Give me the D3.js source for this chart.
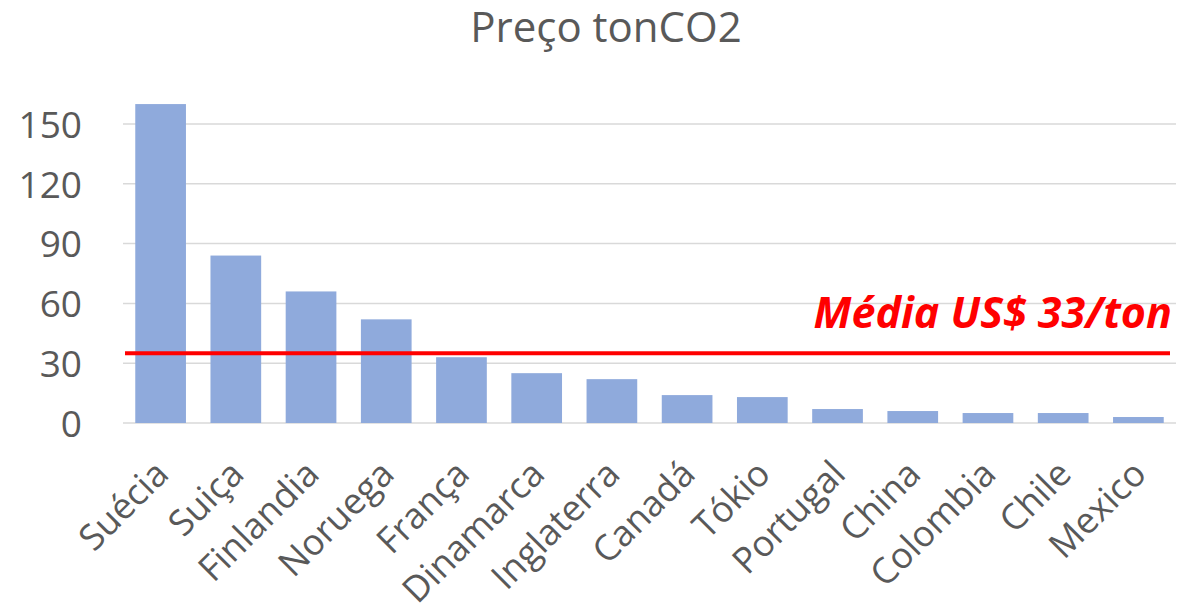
<!DOCTYPE html>
<html>
<head>
<meta charset="utf-8">
<script src="https://cdn.jsdelivr.net/npm/d3@7"></script>
<style>
  body { margin: 0; background: #fff; }
  text { font-family: "Open Sans", sans-serif; }
</style>
</head>
<body>
<div id="container"></div>
<script>
const countries = ["Suécia","Suiça","Finlandia","Noruega","França","Dinamarca","Inglaterra","Canadá","Tókio","Portugal","China","Colombia","Chile","Mexico"];
const prices = [160, 84, 66, 52, 33, 25, 22, 14, 13, 7, 6, 5, 5, 3];
const yTicks = [0, 30, 60, 90, 120, 150];
const avgValue = 35;
const avgLabel = "Média US$ 33/ton";
const title = "Preço tonCO2";

const w = 1178, h = 607;
const plotLeft = 123, plotRight = 1176, plotTop = 124, plotBottom = 423;

const svg = d3.select("#container").append("svg")
  .attr("width", w).attr("height", h);

const x = d3.scaleBand().domain(countries).range([plotLeft, plotRight]).paddingInner(0.326).paddingOuter(0.163);
const y = d3.scaleLinear().domain([0, 150]).range([plotBottom, plotTop]);

// gridlines
svg.append("g").selectAll("line")
  .data(yTicks).enter().append("line")
  .attr("x1", plotLeft).attr("x2", plotRight)
  .attr("y1", d => y(d)).attr("y2", d => y(d))
  .attr("stroke", "#d9d9d9").attr("stroke-width", 1.5);

// y axis labels
const yAxis = d3.axisLeft(y).tickValues(yTicks).tickSize(0).tickPadding(0);
svg.append("g").attr("transform", "translate(82,0)").call(yAxis)
  .call(g => g.select(".domain").remove())
  .selectAll("text")
  .attr("font-size", 37).attr("fill", "#595959")
  .attr("font-family", "Open Sans, sans-serif")
  .attr("dy", "0.36em");

// bars
svg.selectAll("rect.bar")
  .data(prices).enter().append("rect")
  .attr("class", "bar")
  .attr("x", (d, i) => x(countries[i]))
  .attr("width", x.bandwidth())
  .attr("y", d => y(d))
  .attr("height", d => y(0) - y(d))
  .attr("fill", "#8faadc");

// x labels
svg.append("g").selectAll("text")
  .data(countries).enter().append("text")
  .attr("transform", d => "translate(" + (x(d) + x.bandwidth() / 2 + 10) + ",476) rotate(-45)")
  .attr("text-anchor", "end")
  .attr("font-size", 36)
  .attr("fill", "#595959")
  .text(d => d);

// average line
svg.append("line")
  .attr("x1", 125).attr("x2", 1170)
  .attr("y1", y(avgValue)).attr("y2", y(avgValue))
  .attr("stroke", "#ff0000").attr("stroke-width", 4);

svg.append("text")
  .attr("x", 1172).attr("y", 328)
  .attr("text-anchor", "end")
  .attr("font-size", 43)
  .attr("font-weight", "bold")
  .attr("font-style", "italic")
  .attr("fill", "#ff0000")
  .text(avgLabel);

// title
svg.append("text")
  .attr("x", 606).attr("y", 42)
  .attr("text-anchor", "middle")
  .attr("font-size", 42)
  .attr("fill", "#595959")
  .text(title);
</script>
</body>
</html>
